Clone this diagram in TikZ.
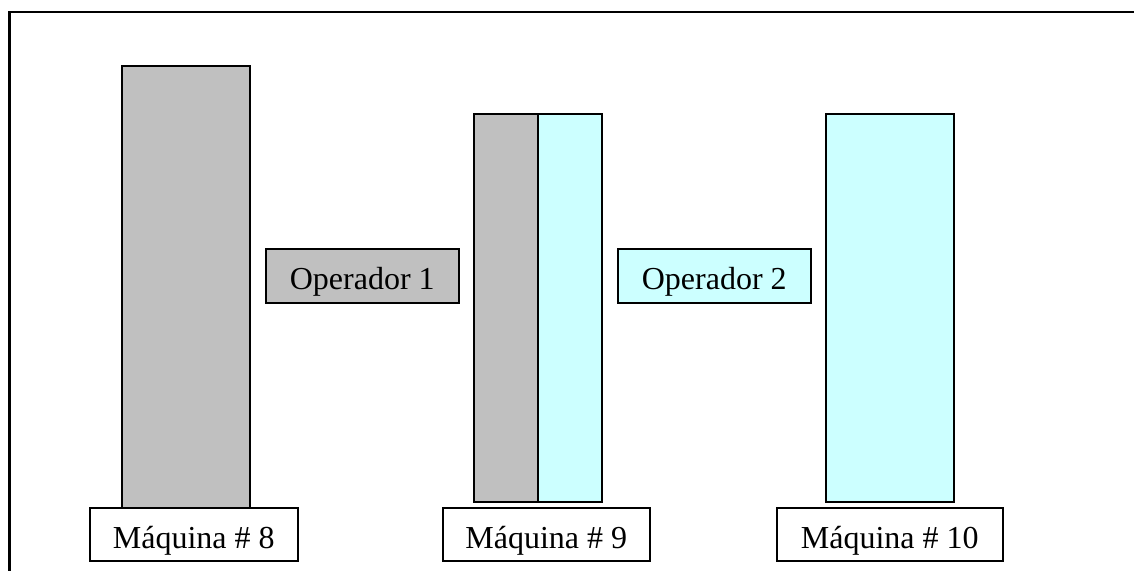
\documentclass[tikz,border=0pt]{standalone}
\usepackage{fontspec}
\setmainfont{Liberation Serif}
\definecolor{machgrey}{HTML}{C0C0C0}
\definecolor{machcyan}{HTML}{CCFFFF}
\begin{document}
\begin{tikzpicture}[x=1pt,y=-1pt,
  bar/.style={draw=black,line width=1.5pt,inner sep=0pt,anchor=north west},
  tag/.style={draw=black,line width=1.5pt,fill=white,inner sep=0pt,anchor=north west,
              text height=30pt,text depth=2.5pt,
              font=\fontsize{32}{36}\selectfont},
  oper/.style={tag}]
\useasboundingbox (0,0) rectangle (1134,571);
% open frame: top and left edges only
\coordinate (frameTR) at (1134,12);
\coordinate (frameTL) at (9.5,12);
\coordinate (frameBL) at (9.5,571);
\draw[line width=2.2pt] (frameTR) -- (frameTL) -- (frameBL);

% machine 8: operator 1 only
\node[bar,fill=machgrey,minimum width=128pt,minimum height=442pt] (m8) at (121,65) {};
% machine 9: shared by both operators
\node[bar,fill=machgrey,minimum width=64pt,minimum height=388pt] (m9a) at (473,113) {};
\node[bar,fill=machcyan,minimum width=64pt,minimum height=388pt] (m9b) at (537,113) {};
% machine 10: operator 2 only
\node[bar,fill=machcyan,minimum width=128pt,minimum height=388pt] (m10) at (825,113) {};

% operator tags
\node[oper,fill=machgrey,minimum width=193pt,minimum height=54pt] (op1) at (265,248) {Operador 1};
\node[oper,fill=machcyan,minimum width=193pt,minimum height=54pt] (op2) at (617,248) {Operador 2};

% machine labels
\node[tag,minimum width=208pt,minimum height=53pt] (l8) at (89,507) {Máquina \# 8};
\node[tag,minimum width=207pt,minimum height=53pt] (l9) at (442,507) {Máquina \# 9};
\node[tag,minimum width=226pt,minimum height=53pt] (l10) at (776,507) {Máquina \# 10};
\end{tikzpicture}
\end{document}
